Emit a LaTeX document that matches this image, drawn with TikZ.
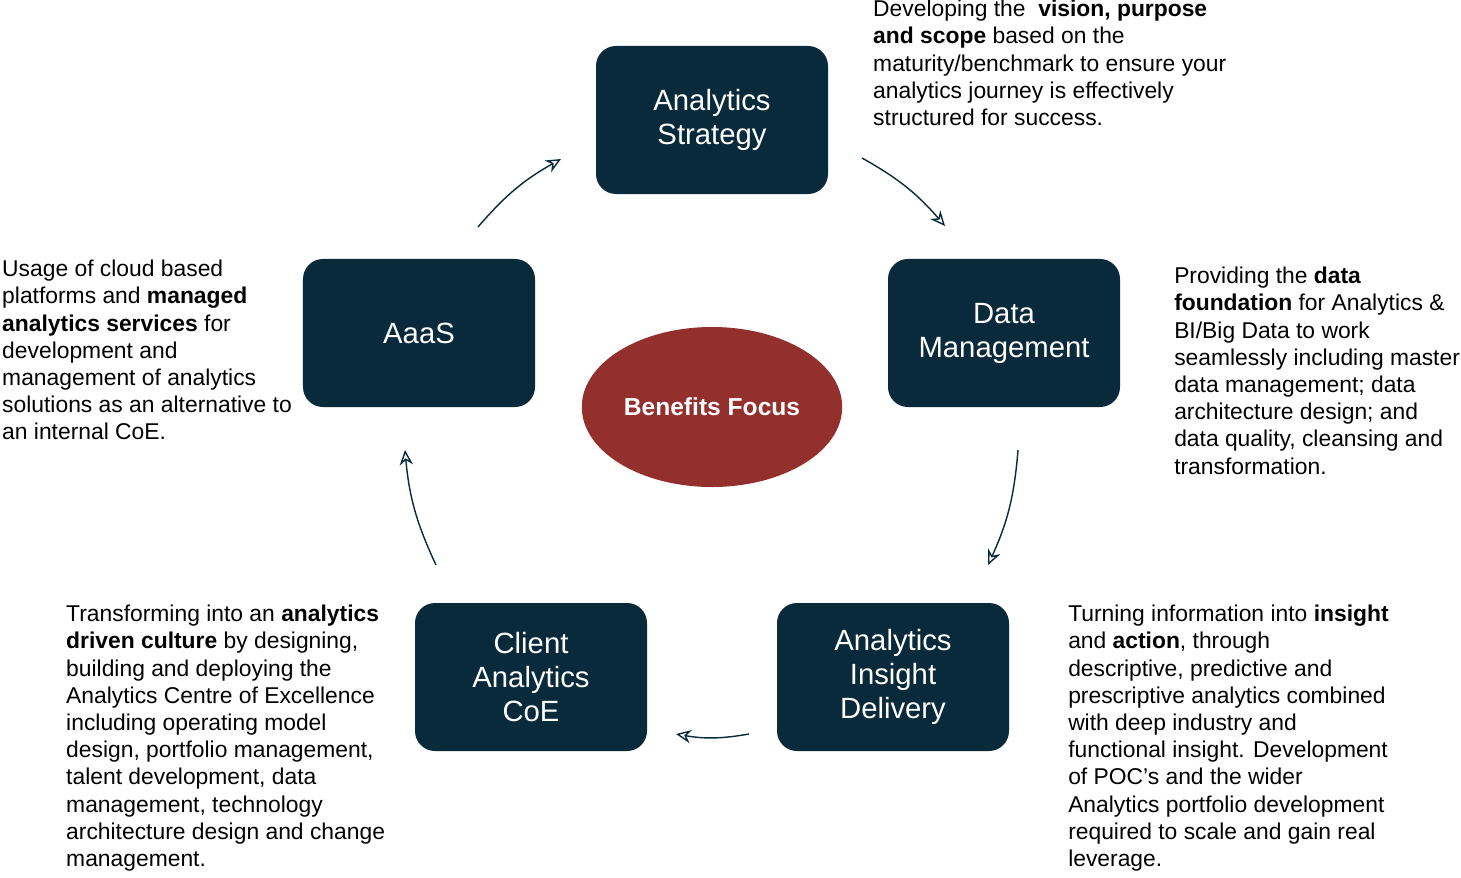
\documentclass[tikz,border=0pt]{standalone}
\usepackage{fontspec}
\setmainfont{Liberation Sans}
\usetikzlibrary{arrows.meta,shapes.geometric}
\definecolor{navy}{HTML}{082A3A}
\definecolor{brick}{HTML}{93302E}
\tikzset{
  stage/.style={rectangle, rounded corners=0.6cm, fill=navy, text=white, minimum width=6.96cm, minimum height=4.44cm, align=center, font=\fontsize{25}{29}\selectfont},
  note/.style={anchor=north west, inner sep=0pt, align=left, font=\fontsize{19.5}{23.2}\selectfont},
  flow/.style={-{Stealth[length=0.45cm,width=0.4cm,open]}, line width=1.2pt, draw=navy}
}
\begin{document}
\begin{tikzpicture}[x=0.03cm,y=-0.03cm]
\useasboundingbox (0,0) rectangle (1461,878);
% cycle of stages
\node[stage] (AS) at (712,120) {Analytics\\Strategy};
\node[stage] (DM) at (1004,333) {Data\\Management};
\node[stage] (AID) at (893,677) {Analytics\\Insight\\Delivery};
\node[stage] (CAC) at (531,677) {Client\\Analytics\\CoE};
\node[stage] (AA) at (419,333) {AaaS};
\node[ellipse, fill=brick, text=white, minimum width=7.62cm, minimum height=4.8cm, font=\fontsize{21}{25}\selectfont\bfseries] (BF) at (712,407) {Benefits Focus};

% arrow ends
\coordinate (a1) at (862,158); \coordinate (b1) at (945,226);
\coordinate (a2) at (1018,450); \coordinate (b2) at (988,565);
\coordinate (a3) at (749,734); \coordinate (b3) at (676,734);
\coordinate (a4) at (436,565); \coordinate (b4) at (405,450);
\coordinate (a5) at (478,227); \coordinate (b5) at (561,159);
\draw[flow] (a1) to[bend left=10] (b1);
\draw[flow] (a2) to[bend left=10] (b2);
\draw[flow] (a3) to[bend left=10] (b3);
\draw[flow] (a4) to[bend left=10] (b4);
\draw[flow] (a5) to[bend left=10] (b5);

% descriptions
\node[note] (tAS) at (873,0) {Developing the \ \textbf{vision, purpose}\\\textbf{and scope} based on the\\maturity/benchmark to ensure your\\analytics journey is effectively\\structured for success.};
\node[note] (tDM) at (1174,267) {Providing the \textbf{data}\\\textbf{foundation} for Analytics \&\\BI/Big Data to work\\seamlessly including master\\data management; data\\architecture design; and\\data quality, cleansing and\\transformation.};
\node[note] (tAID) at (1068,605) {Turning information into \textbf{insight}\\and \textbf{action}, through\\descriptive, predictive and\\prescriptive analytics combined\\with deep industry and\\functional insight. Development\\of POC’s and the wider\\Analytics portfolio development\\required to scale and gain real\\leverage.};
\node[note] (tCAC) at (66,605) {Transforming into an \textbf{analytics}\\\textbf{driven culture} by designing,\\building and deploying the\\Analytics Centre of Excellence\\including operating model\\design, portfolio management,\\talent development, data\\management, technology\\architecture design and change\\management.};
\node[note] (tAA) at (2,260) {Usage of cloud based\\platforms and \textbf{managed}\\\textbf{analytics services} for\\development and\\management of analytics\\solutions as an alternative to\\an internal CoE.};
\end{tikzpicture}
\end{document}
